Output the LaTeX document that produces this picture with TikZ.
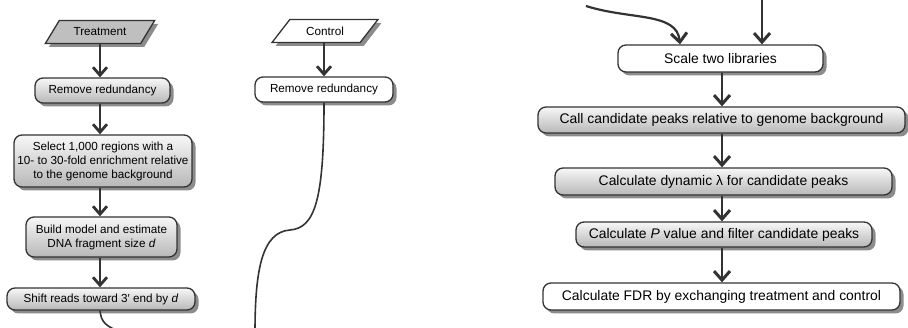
\documentclass[tikz,border=0pt]{standalone}
\usepackage{fontspec}
\setmainfont{Liberation Sans}
\usetikzlibrary{shapes.geometric,shadows,arrows.meta,calc}
\newcommand\fsl{\fontsize{11.7pt}{14pt}\selectfont}
\newcommand\fsr{\fontsize{13.9pt}{16.5pt}\selectfont}
\begin{document}
\begin{tikzpicture}[x=1pt,y=-1pt,
  box/.style={draw=black!80, line width=1.3pt, rounded corners=8pt, align=center, inner sep=0pt,
    drop shadow={shadow xshift=3.5pt, shadow yshift=-3.5pt, fill=black!45, opacity=1}},
  graybox/.style={box, top color=black!3, bottom color=black!28},
  whitebox/.style={box, fill=white},
  para/.style={draw=black!80, line width=1.3pt, shape=trapezium, trapezium left angle=42,
    trapezium right angle=138, trapezium stretches=true, inner sep=0pt, minimum height=23pt,
    drop shadow={shadow xshift=3.5pt, shadow yshift=-3.5pt, fill=black!45, opacity=1}},
  arr/.style={draw=black!80, line width=2pt, -{Straight Barb[length=8pt,width=14pt,line width=2.8pt]}},
  arrR/.style={draw=black!80, line width=2.2pt, -{Straight Barb[length=9pt,width=16pt,line width=3pt]}},
  curve/.style={draw=black!80, line width=1.6pt}]
\useasboundingbox (0,0) rectangle (908,328);
% left panel, treatment
\node[para, fill=black!25, minimum width=110pt, font=\fsl] (tpara) at (100,32) {Treatment};
\node[graybox, minimum width=135pt, minimum height=25pt, font=\fsl] (tr) at (102.5,90.5) {Remove redundancy};
\node[graybox, minimum width=178pt, minimum height=52pt, font=\fsl] (sel) at (103,161)
  {Select 1,000 regions with a\\10- to 30-fold enrichment relative\\to the genome background};
\node[graybox, minimum width=151pt, minimum height=40pt, font=\fsl] (bm) at (101.5,237)
  {Build model and estimate\\DNA fragment size \textit{d}};
\node[graybox, minimum width=188pt, minimum height=22pt, font=\fsl] (sh) at (101,299)
  {Shift reads toward 3′ end by \textit{d}};
\draw[arr] (tpara.south) -- (tpara.south |- tr.north);
\draw[arr] (tpara.south |- tr.south) -- (tpara.south |- sel.north);
\draw[arr] (tpara.south |- sel.south) -- (tpara.south |- bm.north);
\draw[arr] (tpara.south |- bm.south) -- (tpara.south |- sh.north);
\coordinate (tend) at (122,332);
\draw[curve] (tpara.south |- sh.south) .. controls (101,322) and (106,327) .. (tend);
% left panel, control
\node[para, fill=white, minimum width=106pt, font=\fsl] (cpara) at (325,31) {Control};
\node[whitebox, minimum width=138pt, minimum height=25pt, font=\fsl] (cr) at (324,89.5) {Remove redundancy};
\draw[arr] (cpara.south -| 324,0) -- (cr.north -| 324,0);
\coordinate (cmid) at (290,230);
\coordinate (cend) at (255,332);
\draw[curve] (cr.south -| 324,0) .. controls (324,200) and (315,228) .. (cmid)
  .. controls (262,232) and (255,270) .. (cend);
% right panel
\node[whitebox, minimum width=205pt, minimum height=27pt, font=\fsr] (sc) at (720.5,58.5) {Scale two libraries};
\node[graybox, minimum width=367pt, minimum height=26pt, font=\fsr] (cc) at (721.5,120) {Call candidate peaks relative to genome background};
\node[graybox, minimum width=337pt, minimum height=27pt, font=\fsr] (dl) at (723.5,181.5) {Calculate dynamic λ for candidate peaks};
\node[graybox, minimum width=296pt, minimum height=25pt, font=\fsr] (pv) at (724,234.5) {Calculate \textit{P} value and filter candidate peaks};
\node[whitebox, minimum width=357pt, minimum height=27pt, font=\fsr] (fdr) at (721.5,296.5) {Calculate FDR by exchanging treatment and control};
\coordinate (rs1) at (586,6);
\coordinate (rs2) at (762,-2);
\draw[arrR] (rs1) .. controls (630,20) and (677,12) .. ($(sc.north)+(-40.5,0)$);
\draw[arrR] (rs2) -- (rs2 |- sc.north);
\draw[arrR] (sc.south -| 722,0) -- (cc.north -| 722,0);
\draw[arrR] (cc.south -| 722,0) -- (dl.north -| 722,0);
\draw[arrR] (dl.south -| 722,0) -- (pv.north -| 722,0);
\draw[arrR] (pv.south -| 722,0) -- (fdr.north -| 722,0);
\end{tikzpicture}
\end{document}
